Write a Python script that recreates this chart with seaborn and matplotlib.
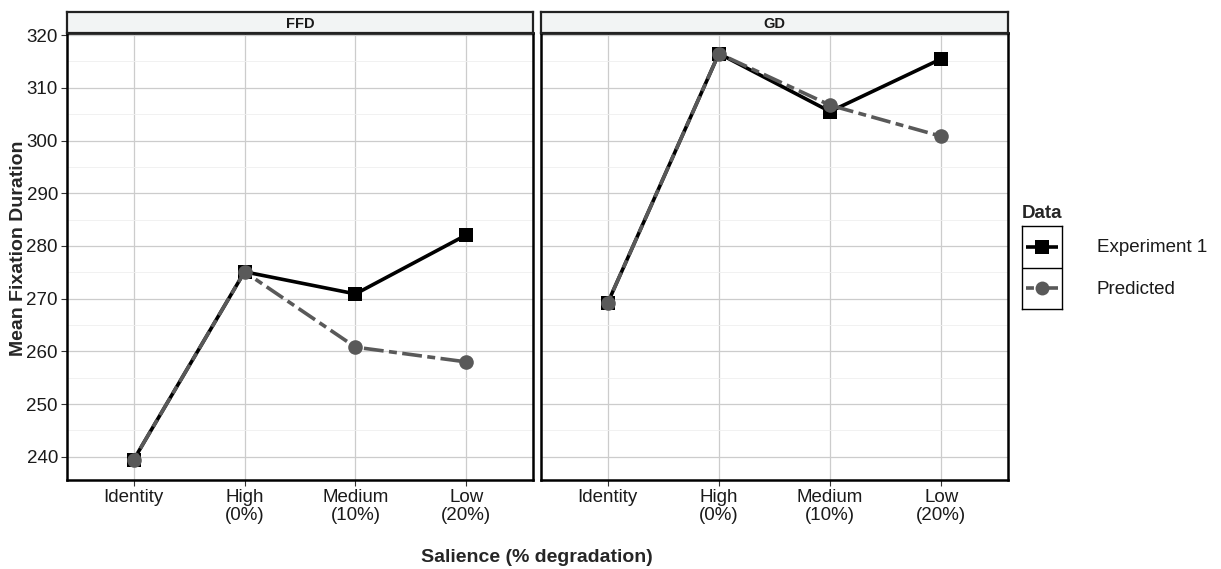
import matplotlib
matplotlib.use('Agg')
import matplotlib.pyplot as plt
from matplotlib.ticker import MultipleLocator
import seaborn as sns
import pandas as pd

# ── Data ───────────────────────────────────────────────────────────────────────
salience   = ['Identity', 'High\n(0%)', 'Medium\n(10%)', 'Low\n(20%)']
measures   = ['FFD', 'GD']
series     = ['Experiment 1', 'Predicted']

ffd_exp    = [239.4, 275.1, 270.9, 282.1]
ffd_pred   = [239.4, 275.1, 260.8, 258.0]
gd_exp     = [269.2, 316.5, 305.5, 315.5]
gd_pred    = [269.2, 316.5, 306.7, 300.8]

rows = []
for measure, exp, pred in [('FFD', ffd_exp, ffd_pred), ('GD', gd_exp, gd_pred)]:
    for i, lab in enumerate(salience):
        rows.append({'Measure': measure, 'x': i, 'Data': 'Experiment 1', 'value': exp[i]})
        rows.append({'Measure': measure, 'x': i, 'Data': 'Predicted',    'value': pred[i]})
df = pd.DataFrame(rows)

# ── Style ──────────────────────────────────────────────────────────────────────
sns.set_style('white')
plt.rcParams['font.family'] = ['Liberation Sans', 'DejaVu Sans']

colors  = {'Experiment 1': 'black', 'Predicted': '#595959'}
markers = {'Experiment 1': 's', 'Predicted': 'o'}
dashes  = {'Experiment 1': (None, None), 'Predicted': (2.2, 1.5, 5.5, 1.5)}
lw      = 2.6
tick_fs = 13.5

W, H = 1221, 569
fig = plt.figure(figsize=(W / 100, H / 100), dpi=100)

panels = [(67, 533), (541, 1008)]
top, bottom, strip_top = 33, 480, 12

axes = []
for k, (measure, (x0, x1)) in enumerate(zip(measures, panels)):
    ax = fig.add_axes([x0 / W, 1 - bottom / H, (x1 - x0) / W, (bottom - top) / H])
    sub = df[df['Measure'] == measure]
    for name in series:
        s = sub[sub['Data'] == name]
        sns.lineplot(data=s, x='x', y='value', ax=ax, color=colors[name],
                     marker=markers[name], markersize=10.5, linewidth=lw,
                     markeredgewidth=0, legend=False, zorder=3 if name == 'Predicted' else 2)
        if dashes[name][0] is not None:
            ax.lines[-1].set_dashes(dashes[name])
    ax.set_xlim(-0.6, 3.6)
    ax.set_ylim(235.6, 320.4)
    ax.set_xticks(range(len(salience)))
    ax.set_xticklabels(salience, fontsize=tick_fs, color='#1a1a1a', linespacing=1.05)
    ax.yaxis.set_major_locator(MultipleLocator(10))
    ax.yaxis.set_minor_locator(MultipleLocator(5))
    ax.grid(True, which='major', color='#cccccc', linewidth=0.9)
    ax.grid(True, which='minor', axis='y', color='#efefef', linewidth=0.6)
    ax.set_axisbelow(True)
    ax.set_xlabel('')
    ax.set_ylabel('')
    for sp in ax.spines.values():
        sp.set_color('black')
        sp.set_linewidth(1.8)
    ax.tick_params(axis='both', which='major', length=4, width=0.8, color='#333333',
                   labelsize=tick_fs, left=(k == 0), bottom=True, pad=2.5)
    ax.tick_params(axis='y', which='minor', length=0)
    if k == 1:
        ax.set_yticklabels([])
    else:
        for t in ax.get_yticklabels():
            t.set_color('#1a1a1a')

    # facet strip
    sax = fig.add_axes([x0 / W, 1 - top / H, (x1 - x0) / W, (top - strip_top) / H])
    sax.set_facecolor('#f2f4f4')
    sax.set_xticks([])
    sax.set_yticks([])
    for sp in sax.spines.values():
        sp.set_color('#222222')
        sp.set_linewidth(1.6)
    sax.text(0.5, 0.45, measure, ha='center', va='center', fontsize=10.5,
             fontweight='bold', color='#1a1a1a', transform=sax.transAxes)
    axes.append(ax)

fig.text(19 / W, 1 - 248 / H, 'Mean Fixation Duration', rotation=90, ha='center',
         va='center', fontsize=14, fontweight='bold')
fig.text(537 / W, 1 - 557 / H, 'Salience (% degradation)', ha='center', va='center',
         fontsize=14, fontweight='bold')

# ── Legend (ggplot style boxed keys) ──────────────────────────────────────────
fig.text(1022 / W, 1 - 213 / H, 'Data', ha='left', va='center', fontsize=13.5,
         fontweight='bold')
lax = fig.add_axes([1022 / W, 1 - 309 / H, 40 / W, 83 / H])
lax.set_xlim(0, 1)
lax.set_ylim(0, 2)
lax.set_xticks([])
lax.set_yticks([])
for sp in lax.spines.values():
    sp.set_color('black')
    sp.set_linewidth(1.0)
lax.axhline(1, color='black', linewidth=1.0)
for i, name in enumerate(series):
    yk = 1.5 - i
    ln, = lax.plot([0.1, 0.9], [yk, yk], color=colors[name], linewidth=lw,
                   solid_capstyle='butt')
    if dashes[name][0] is not None:
        ln.set_dashes(dashes[name])
    lax.plot([0.5], [yk], marker=markers[name], color=colors[name], markersize=10,
             markeredgewidth=0)
    fig.text(1097 / W, 1 - (248 + 42 * i) / H, name, ha='left', va='center',
             fontsize=13.5, color='#1a1a1a')

plt.savefig('out.png', dpi=100)
plt.close()
